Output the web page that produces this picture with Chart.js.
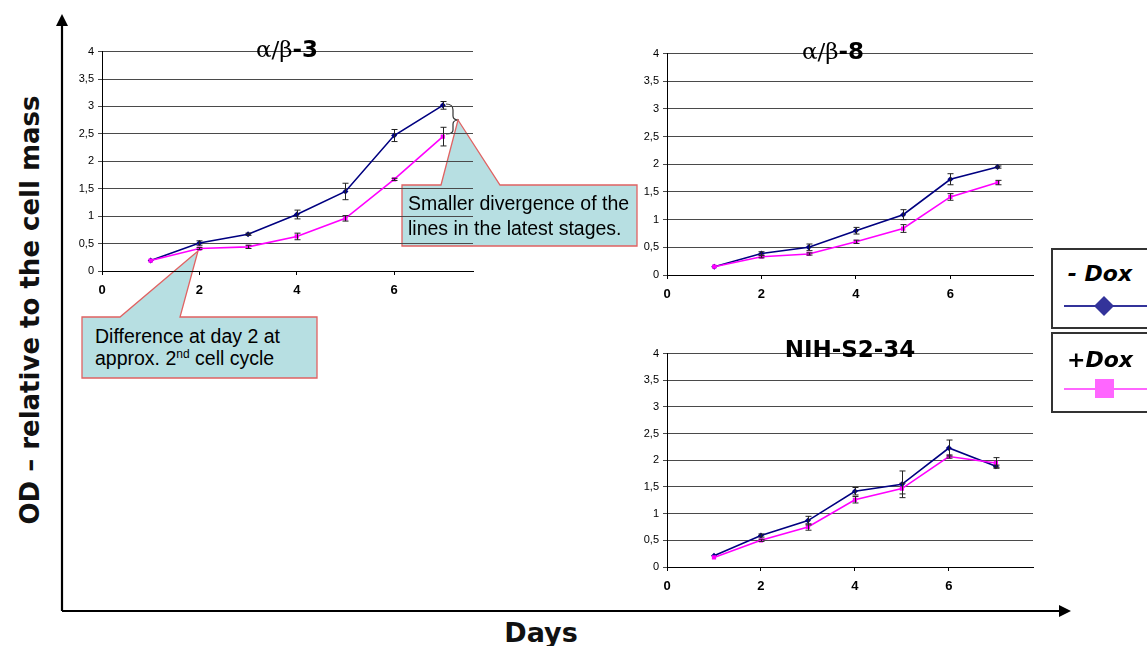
<!DOCTYPE html>
<html>
<head>
<meta charset="utf-8">
<script src="https://cdn.jsdelivr.net/npm/chart.js@4.4.0/dist/chart.umd.min.js"></script>
<style>
  html, body { margin:0; padding:0; background:#fff; }
  #wrap { position:relative; width:1147px; height:646px; overflow:hidden; background:#fff; }
  canvas { position:absolute; }
  .title { position:absolute; font-family:'DejaVu Sans', Verdana, sans-serif; font-weight:bold; font-size:23px; color:#000; transform:translate(-50%,-50%); white-space:nowrap; }
  .title .g { font-family:'DejaVu Serif', serif; font-weight:normal; }
  .txt { position:absolute; font-family:'Liberation Sans', Arial, sans-serif; font-size:19.5px; color:#000; white-space:nowrap; }
  .leg { position:absolute; font-family:'DejaVu Sans', Verdana, sans-serif; font-weight:bold; font-style:italic; font-size:22px; color:#000; transform:translate(-50%,-50%); white-space:nowrap; }
  #ylab { position:absolute; left:30px; top:310px; transform:translate(-50%,-50%) rotate(-90deg); font-family:'DejaVu Sans', Verdana, sans-serif; font-weight:bold; font-size:26px; white-space:nowrap; color:#111; }
  #xlab { position:absolute; left:541px; top:632px; transform:translate(-50%,-50%); font-family:'DejaVu Sans', Verdana, sans-serif; font-weight:bold; font-size:27px; white-space:nowrap; color:#111; }
</style>
</head>
<body>
<div id="wrap">
  <svg id="deco" width="1147" height="646" style="position:absolute;left:0;top:0">
    <!-- big axes -->
    <line x1="62" y1="611" x2="62" y2="24" stroke="#000" stroke-width="2.2"/>
    <polygon points="62,14 56,26 68,26" fill="#000"/>
    <line x1="62" y1="611" x2="1060" y2="611" stroke="#000" stroke-width="2.2"/>
    <polygon points="1071,611 1059,605 1059,617" fill="#000"/>
    <!-- brace -->
    <path d="M446,104 Q453,104 453,110 L453,116 Q453,120 459,120 Q453,120 453,124 L453,130 Q453,134 446,134" fill="none" stroke="#333" stroke-width="1.2"/>
    <!-- callouts -->
    <polygon points="402,185 441,185 458,120 500,185 637,185 637,246 402,246" fill="#b7dfe2" stroke="#e06262" stroke-width="1.3"/>
    <polygon points="82,317 120,317 198,251 180,317 317,317 317,378 82,378" fill="#b7dfe2" stroke="#e06262" stroke-width="1.3"/>
    <!-- legend boxes -->
    <rect x="1052" y="249" width="100" height="79" fill="#fff" stroke="#333" stroke-width="2"/>
    <rect x="1052" y="333" width="100" height="79" fill="#fff" stroke="#333" stroke-width="2"/>
    <line x1="1064" y1="306" x2="1147" y2="306" stroke="#33339a" stroke-width="2"/>
    <polygon points="1104,296 1114,306 1104,316 1094,306" fill="#33339a"/>
    <line x1="1064" y1="389" x2="1147" y2="389" stroke="#ff66ff" stroke-width="2"/>
    <rect x="1095" y="379" width="19" height="19" fill="#ff66ff"/>
  </svg>

  <canvas id="c1" width="418" height="260" style="left:60px;top:41px"></canvas>
  <canvas id="c2" width="413" height="262" style="left:625px;top:43px"></canvas>
  <canvas id="c3" width="413" height="254" style="left:625px;top:343px"></canvas>

  <div class="title" style="left:287px;top:49px"><span class="g">α/β</span>-3</div>
  <div class="title" style="left:833px;top:51px"><span class="g">α/β</span>-8</div>
  <div class="title" style="left:850px;top:349px">NIH-S2-34</div>

  <div class="txt" style="left:408px;top:191px;line-height:25px">Smaller divergence of the<br>lines in the latest stages.</div>
  <div class="txt" style="left:95px;top:325px;line-height:22px">Difference at day 2 at<br>approx. 2<sup style="font-size:12px;line-height:0">nd</sup> cell cycle</div>

  <div class="leg" style="left:1100px;top:273px">- Dox</div>
  <div class="leg" style="left:1100px;top:359px">+Dox</div>

  <div id="ylab">OD – relative to the cell mass</div>
  <div id="xlab">Days</div>
</div>

<script>
// ---- data ----
const days = [1, 2, 3, 4, 5, 6, 7];
const seriesNames = ['- Dox', '+Dox'];
const yTickValues = [0, 0.5, 1, 1.5, 2, 2.5, 3, 3.5, 4];
const xTickValues = [0, 2, 4, 6];

const ab3Minus = [0.19, 0.51, 0.67, 1.03, 1.45, 2.47, 3.02];
const ab3MinusErr = [0.01, 0.04, 0.02, 0.08, 0.15, 0.11, 0.07];
const ab3Plus = [0.19, 0.41, 0.44, 0.63, 0.96, 1.67, 2.45];
const ab3PlusErr = [0.01, 0.02, 0.03, 0.06, 0.05, 0.02, 0.17];

const ab8Minus = [0.15, 0.39, 0.50, 0.80, 1.09, 1.73, 1.95];
const ab8MinusErr = [0.01, 0.03, 0.06, 0.06, 0.09, 0.10, 0.02];
const ab8Plus = [0.15, 0.33, 0.38, 0.60, 0.84, 1.41, 1.67];
const ab8PlusErr = [0.01, 0.02, 0.02, 0.03, 0.07, 0.06, 0.04];

const nihMinus = [0.21, 0.59, 0.87, 1.42, 1.55, 2.23, 1.89];
const nihMinusErr = [0.01, 0.03, 0.08, 0.07, 0.25, 0.15, 0.02];
const nihPlus = [0.18, 0.50, 0.75, 1.26, 1.47, 2.07, 1.95];
const nihPlusErr = [0.01, 0.02, 0.06, 0.06, 0.10, 0.03, 0.10];

// ---- helpers ----
const errorBars = {
  id: 'errorBars',
  afterDatasetsDraw(chart) {
    const ctx = chart.ctx, xs = chart.scales.x, ys = chart.scales.y;
    ctx.save();
    ctx.strokeStyle = '#222';
    ctx.lineWidth = 1;
    chart.data.datasets.forEach(ds => {
      ds.data.forEach((p, i) => {
        const e = ds.errors[i];
        if (!e || e < 0.02) return;
        const x = Math.round(xs.getPixelForValue(p.x)) + 0.5;
        const y1 = ys.getPixelForValue(p.y - e), y2 = ys.getPixelForValue(p.y + e);
        ctx.beginPath();
        ctx.moveTo(x, y1); ctx.lineTo(x, y2);
        ctx.moveTo(x - 3, y1); ctx.lineTo(x + 3, y1);
        ctx.moveTo(x - 3, y2); ctx.lineTo(x + 3, y2);
        ctx.stroke();
      });
    });
    ctx.restore();
  }
};

function pts(vals) { return days.map((d, i) => ({ x: d, y: vals[i] })); }

function makeChart(id, minus, minusErr, plus, plusErr, xMax) {
  new Chart(document.getElementById(id), {
    type: 'line',
    data: {
      datasets: [
        { label: seriesNames[1], data: pts(plus), errors: plusErr, borderColor: '#ff00ff', backgroundColor: '#ff00ff',
          borderWidth: 1.6, pointStyle: 'rect', pointRadius: 3, pointBorderWidth: 0, tension: 0 },
        { label: seriesNames[0], data: pts(minus), errors: minusErr, borderColor: '#000080', backgroundColor: '#000080',
          borderWidth: 1.6, pointStyle: 'rectRot', pointRadius: 3, pointBorderWidth: 0, tension: 0 }
      ]
    },
    options: {
      responsive: false, animation: false, devicePixelRatio: 1,
      layout: { padding: { top: 10, right: 5, left: 0, bottom: 0 } },
      plugins: { legend: { display: false }, tooltip: { enabled: false } },
      scales: {
        x: {
          type: 'linear', min: 0, max: xMax,
          afterBuildTicks: s => { s.ticks = xTickValues.map(v => ({ value: v })); },
          afterFit: s => { s.height = 30; },
          grid: { drawOnChartArea: false, drawTicks: true, tickLength: 4, color: '#000' },
          border: { color: '#000', width: 1 },
          ticks: { color: '#000', padding: 8, font: { family: "'Liberation Sans Narrow', 'Liberation Sans', Arial", size: 13, weight: 'bold' } }
        },
        y: {
          min: 0, max: 4,
          afterBuildTicks: s => { s.ticks = yTickValues.map(v => ({ value: v })); },
          afterFit: s => { s.width = 42; },
          grid: { color: '#4a4a4a', lineWidth: 1, tickLength: 4 },
          border: { color: '#000', width: 1 },
          ticks: { color: '#000', padding: 4, font: { family: "'Liberation Sans Narrow', 'Liberation Sans', Arial", size: 11 },
                   callback: v => String(v).replace('.', ',') }
        }
      }
    },
    plugins: [errorBars]
  });
}

makeChart('c1', ab3Minus, ab3MinusErr, ab3Plus, ab3PlusErr, 7.62);
makeChart('c2', ab8Minus, ab8MinusErr, ab8Plus, ab8PlusErr, 7.75);
makeChart('c3', nihMinus, nihMinusErr, nihPlus, nihPlusErr, 7.79);
</script>
</body>
</html>
